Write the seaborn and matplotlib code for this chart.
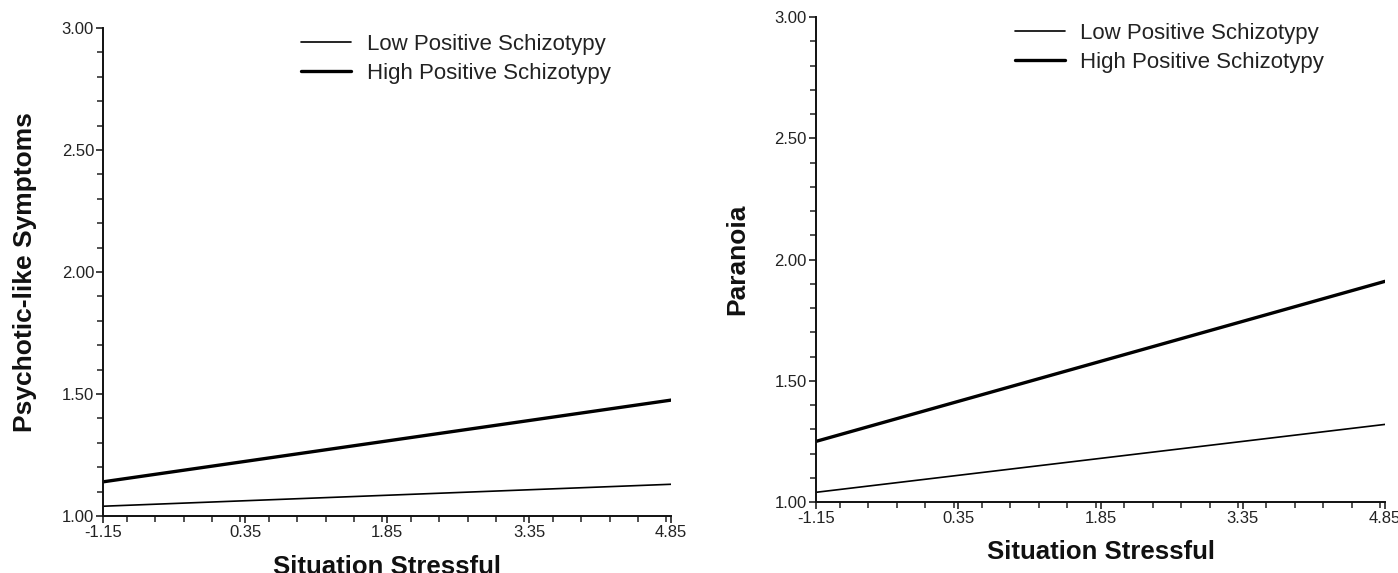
import matplotlib.pyplot as plt
import seaborn as sns
import pandas as pd
from matplotlib.ticker import MultipleLocator, FixedLocator

sns.set_style("ticks")
plt.rcParams['font.family'] = ['Liberation Sans', 'DejaVu Sans']

stress = [-1.15, 4.85]
groups = ['Low Positive Schizotypy', 'High Positive Schizotypy']
psychotic_low = [1.04, 1.13]
psychotic_high = [1.14, 1.475]
paranoia_low = [1.04, 1.32]
paranoia_high = [1.25, 1.91]
x_ticks = [-1.15, 0.35, 1.85, 3.35, 4.85]
y_ticks = [1.00, 1.50, 2.00, 2.50, 3.00]


def make_df(low, high):
    rows = []
    for g, vals in zip(groups, [low, high]):
        for x, y in zip(stress, vals):
            rows.append({'Situation Stressful': x, 'value': y, 'group': g})
    return pd.DataFrame(rows)


def draw(ax, low, high, ylabel, legend_anchor, xpad):
    df = make_df(low, high)
    sns.lineplot(data=df, x='Situation Stressful', y='value', hue='group',
                 size='group', sizes={groups[0]: 1.2, groups[1]: 2.4},
                 palette={groups[0]: 'black', groups[1]: 'black'}, ax=ax)
    ax.set_xlim(-1.15, 4.85)
    ax.set_ylim(1.0, 3.0)
    ax.xaxis.set_major_locator(FixedLocator(x_ticks))
    ax.xaxis.set_minor_locator(MultipleLocator(0.3))
    ax.yaxis.set_major_locator(FixedLocator(y_ticks))
    ax.yaxis.set_minor_locator(MultipleLocator(0.1))
    ax.set_xticklabels([f'{v:.2f}' for v in x_ticks])
    ax.set_yticklabels([f'{v:.2f}' for v in y_ticks])
    ax.tick_params(axis='both', which='major', length=5, width=1.2,
                   labelsize=12, direction='out', pad=1.5, colors='#222222',
                   labelcolor='#222222')
    ax.tick_params(axis='both', which='minor', length=4, width=1.1,
                   direction='out', colors='#222222')
    for s in ['left', 'bottom']:
        ax.spines[s].set_linewidth(1.4)
        ax.spines[s].set_color('#111111')
    sns.despine(ax=ax)
    ax.set_xlabel('Situation Stressful', fontsize=18.5, fontweight='bold',
                  labelpad=xpad, color='#111111')
    ax.set_ylabel(ylabel, fontsize=19, fontweight='bold', labelpad=18,
                  color='#111111')
    handles, labels = ax.get_legend_handles_labels()
    leg = ax.legend(handles, labels, frameon=False, fontsize=16,
                    handlelength=2.25, loc='upper left',
                    bbox_to_anchor=legend_anchor, handletextpad=0.7,
                    labelspacing=0.35, borderaxespad=0)
    for t in leg.get_texts():
        t.set_color('#222222')
    for sp in ax.spines.values():
        sp.set_clip_on(False)


fig = plt.figure(figsize=(13.98, 5.73), dpi=100)
ax1 = fig.add_axes([0.0737, 0.0995, 0.4063, 0.8515])
ax2 = fig.add_axes([0.5837, 0.1239, 0.4070, 0.8464])

draw(ax1, psychotic_low, psychotic_high, 'Psychotic-like Symptoms',
     (0.333, 1.006), 11)
draw(ax2, paranoia_low, paranoia_high, 'Paranoia', (0.334, 1.006), 10)

fig.savefig('out.png', dpi=100)
